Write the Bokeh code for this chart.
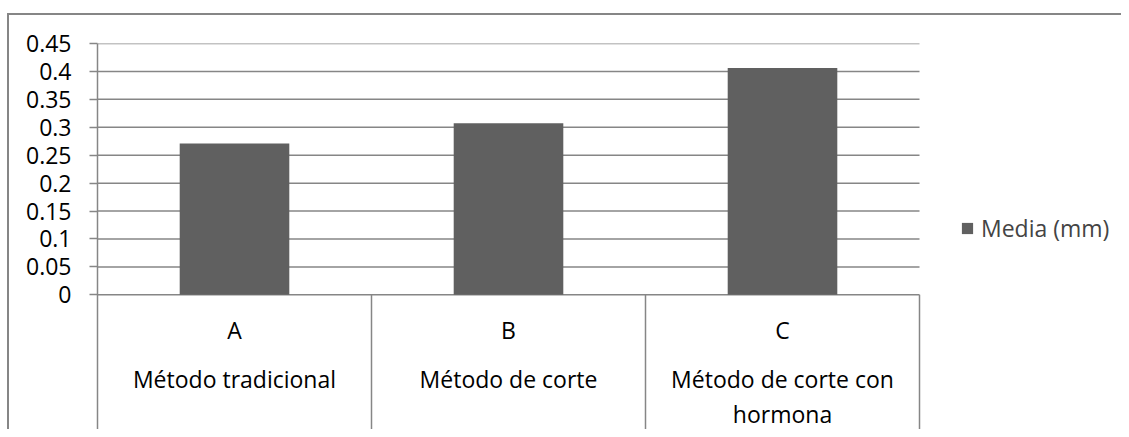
from bokeh.plotting import figure
from bokeh.models import (Range1d, FixedTicker, CustomJSTickFormatter,
                          Legend, LegendItem, ColumnDataSource)
from bokeh.core.properties import value
from bokeh.embed import file_html
from bokeh.resources import INLINE

# ---- data ----
categories = ["A", "B", "C"]
group_labels = ["Método tradicional", "Método de corte", "Método de corte con\nhormona"]
media_mm = [0.271, 0.307, 0.406]
series_name = "Media (mm)"
y_ticks = [0, 0.05, 0.1, 0.15, 0.2, 0.25, 0.3, 0.35, 0.4, 0.45]

FONT = "Open Sans"
FS = "23px"
GRID = "#868686"
BAR = "#606060"

n = len(categories)
xpos = [i + 0.5 for i in range(n)]          # category centres on the x scale
FRAME_W = 1024                                # plot frame width in px
CAT_W = 822                                   # width occupied by the categories

p = figure(width=1121, height=429, output_backend="svg", toolbar_location=None,
           x_range=Range1d(0, n * FRAME_W / CAT_W),
           y_range=Range1d(-0.2411, 0.45),
           x_axis_location=None,
           min_border_left=97, min_border_right=0, min_border_top=43,
           min_border_bottom=0)
p.outline_line_color = None
p.xgrid.visible = False
p.ygrid.visible = False
p.border_fill_alpha = 0
# outer chart border (top and left edges of the chart area)
p.styles = {
    "background-color": "white",
    "background-image": "linear-gradient(#868686,#868686), linear-gradient(#868686,#868686)",
    "background-size": "2px 100%, 100% 2px",
    "background-position": "7px 13px, 7px 13px",
    "background-repeat": "no-repeat",
}

# y axis
ax = p.yaxis[0]
ax.ticker = FixedTicker(ticks=y_ticks)
ax.formatter = CustomJSTickFormatter(code="return String(Math.round(tick*100)/100);")
ax.axis_line_color = GRID
ax.axis_line_width = 1.5
ax.major_tick_line_color = GRID
ax.major_tick_line_width = 1.5
ax.major_tick_out = 8
ax.major_tick_in = 0
ax.minor_tick_line_color = None
ax.major_label_standoff = 18
ax.major_label_text_font = FONT
ax.major_label_text_font_size = FS
ax.major_label_text_color = "#000000"

# horizontal gridlines, limited to the category area
p.segment(x0=[0] * len(y_ticks), y0=y_ticks, x1=[n] * len(y_ticks), y1=y_ticks,
          line_color=GRID, line_width=1.5)

# bars
src = ColumnDataSource(dict(x=xpos, val=media_mm))
bars = p.vbar(x="x", top="val", width=0.4, source=src, fill_color=BAR, line_color=None)

# category separators below the axis
sep_x = list(range(1, n + 1))
p.segment(x0=sep_x, y0=[0] * n, x1=sep_x, y1=[-1] * n,
          line_color=GRID, line_width=1.5)

# level 1 labels
p.text(x=xpos, y=[0] * n, text=categories, y_offset=35,
       text_align="center", text_baseline="alphabetic",
       text_font=value(FONT), text_font_size=FS, text_color="#000000")

# level 2 labels (split in lines)
lx, lt, lo = [], [], []
for xc, lab in zip(xpos, group_labels):
    for i, line in enumerate(lab.split("\n")):
        lx.append(xc)
        lt.append(line)
        lo.append(84 + 35 * i)
p.text(x=lx, y=[0] * len(lx), text=lt, y_offset=lo,
       text_align="center", text_baseline="alphabetic",
       text_font=value(FONT), text_font_size=FS, text_color="#000000")

# legend
legend = Legend(items=[LegendItem(label=series_name, renderers=[bars])],
                location=(863, 185), glyph_width=14, glyph_height=14,
                label_standoff=7, padding=0, margin=0, border_line_color=None,
                background_fill_alpha=0,
                label_text_font=FONT, label_text_font_size=FS)
p.add_layout(legend)

open("out.html", "w").write(file_html(p, INLINE))
